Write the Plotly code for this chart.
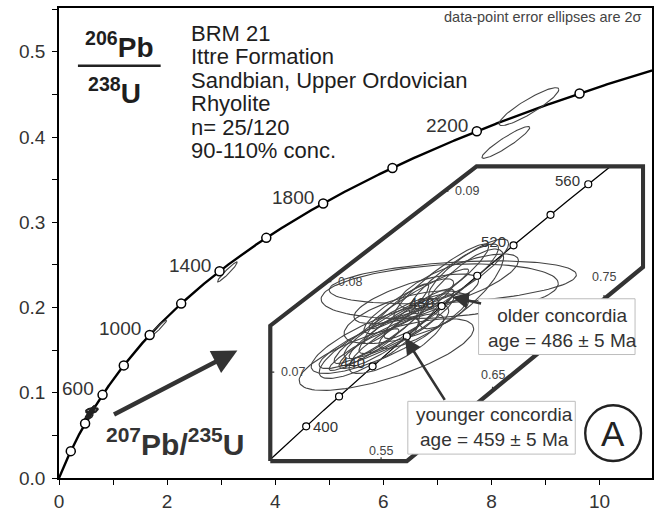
import numpy as np
import plotly.graph_objects as go

# U decay constants (1/yr)
LAMBDA_238 = 1.55125e-10
LAMBDA_235 = 9.8485e-10

# concordia age marks (Ma)
main_marks = [200, 400, 600, 800, 1000, 1200, 1400, 1600, 1800, 2000, 2200, 2400]
main_labels = [600, 1000, 1400, 1800, 2200]
inset_marks = [400, 420, 440, 460, 480, 500, 520, 540, 560]
inset_labels = [400, 440, 480, 520, 560]

# discordant / inherited analyses on the full diagram
# 207Pb/235U, 2s, 206Pb/238U, 2s, error correlation
far_x = [1.807, 3.116, 8.693, 8.266]
far_sx = [0.184, 0.184, 0.553, 0.442]
far_y = [0.1741, 0.2418, 0.4357, 0.3937]
far_sy = [0.0111, 0.0117, 0.0222, 0.0187]
far_rho = [0.97, 0.96, 0.90, 0.93]

# Ordovician cluster (shown enlarged in the inset)
clu_x = [0.5548, 0.5490, 0.5481, 0.5503, 0.5660, 0.5526, 0.5660, 0.5637, 0.5839,
         0.6040, 0.6152, 0.6219, 0.6143, 0.6026, 0.5816, 0.5883, 0.5481, 0.5637,
         0.5347, 0.5839, 0.6286, 0.6196, 0.5727, 0.5749, 0.5391]
clu_sx = [0.0783, 0.0617, 0.0537, 0.0425, 0.0492, 0.0313, 0.0358, 0.0291, 0.0447,
          0.0425, 0.0402, 0.0380, 0.1109, 0.1064, 0.0559, 0.0402, 0.0358, 0.0425,
          0.0313, 0.0313, 0.0358, 0.0537, 0.0559, 0.0402, 0.0447]
clu_y = [0.07194, 0.07370, 0.07370, 0.07453, 0.07508, 0.07425, 0.07508, 0.07645, 0.07810,
         0.08003, 0.08030, 0.07920, 0.07992, 0.07893, 0.07810, 0.07563, 0.07315, 0.07315,
         0.07249, 0.07645, 0.08140, 0.08003, 0.07607, 0.07728, 0.07271]
clu_sy = [0.00396, 0.00385, 0.00330, 0.00358, 0.00358, 0.00275, 0.00303, 0.00330, 0.00330,
          0.00413, 0.00385, 0.00440, 0.00237, 0.00303, 0.00275, 0.00303, 0.00275, 0.00330,
          0.00231, 0.00275, 0.00330, 0.00303, 0.00292, 0.00303, 0.00341]
clu_rho = [0.72, 0.80, 0.88, 0.92, 0.88, 0.92, 0.88, 0.92, 0.95,
           0.92, 0.88, 0.80, 0.35, 0.28, 0.72, 0.85, 0.88, 0.80,
           0.92, 0.88, 0.85, 0.75, 0.62, 0.85, 0.80]

# concordia ages (Ma)
older_age, older_err = 486, 5
younger_age, younger_err = 459, 5

# inset frame: axis limits and the two clipped corners
inset_xlim = (0.4506, 0.7851)
inset_ylim = (0.06017, 0.09274)
cut_top_x, cut_left_y = 0.6357, 0.07513      # upper-left corner cut
cut_bottom_x, cut_right_y = 0.5731, 0.08162  # lower-right corner cut
inset_yticks = [0.07, 0.08, 0.09]
inset_xticks = [0.55, 0.65, 0.75]

info_lines = ["BRM 21", "Ittre Formation", "Sandbian, Upper Ordovician",
              "Rhyolite", "n= 25/120", "90-110% conc."]

FONT = "Liberation Sans, Arial, sans-serif"
DARK = "#2b2b2b"


def concordia(t_ma):
    t = np.asarray(t_ma, dtype=float) * 1e6
    return np.expm1(LAMBDA_235 * t), np.expm1(LAMBDA_238 * t)


def ellipses(xs, sxs, ys, sys, rhos, n=120):
    """2-sigma error ellipses joined into one path (None-separated)."""
    t = np.linspace(0, 2 * np.pi, n)
    px, py = [], []
    for cx, sx, cy, sy, r in zip(xs, sxs, ys, sys, rhos):
        ex = cx + sx * np.cos(t)
        ey = cy + sy * (r * np.cos(t) + np.sqrt(1 - r * r) * np.sin(t))
        px += list(ex) + [None]
        py += list(ey) + [None]
    return px, py


# plot-area pixel box, used for paper-referenced decorations
PL, PR, PT, PB = 59, 654, 8, 480


def paper(xp, yp):
    return (xp - PL) / (PR - PL), (PB - yp) / (PB - PT)


fig = go.Figure()

# ---------------- main diagram ----------------
cx_line, cy_line = concordia(np.linspace(0, 2600, 800))
fig.add_trace(go.Scatter(x=cx_line, y=cy_line, mode="lines",
                         line=dict(color="black", width=2.4), hoverinfo="skip"))

ex, ey = ellipses(far_x, far_sx, far_y, far_sy, far_rho)
fig.add_trace(go.Scatter(x=ex, y=ey, mode="lines",
                         line=dict(color="#444", width=1.1), hoverinfo="skip"))
ex, ey = ellipses(clu_x, clu_sx, clu_y, clu_sy, clu_rho)
fig.add_trace(go.Scatter(x=ex, y=ey, mode="lines",
                         line=dict(color="#222", width=1.6), hoverinfo="skip"))

mx, my = concordia(main_marks)
fig.add_trace(go.Scatter(x=mx, y=my, mode="markers",
                         marker=dict(size=9, color="white",
                                     line=dict(color="black", width=1.5)),
                         hoverinfo="skip"))

annotations = []
lx, ly = concordia(main_labels)
for age, x, y in zip(main_labels, lx, ly):
    annotations.append(dict(x=x, y=y, xref="x", yref="y", text=str(age),
                            showarrow=False, xanchor="right", yanchor="middle",
                            xshift=-7, yshift=6,
                            font=dict(size=19, color="#333", family=FONT)))

# ---------------- inset (enlarged cluster) ----------------
x0, x1 = inset_xlim
y0, y1 = inset_ylim
frame_x = [x0, x0, cut_top_x, x1, x1, cut_bottom_x, x0]
frame_y = [y0, cut_left_y, y1, y1, cut_right_y, y0, y0]

t_lo = np.log1p(x0) / LAMBDA_235 / 1e6
t_hi = np.log1p(y1) / LAMBDA_238 / 1e6
ix, iy = concordia(np.linspace(t_lo, t_hi, 300))
fig.add_trace(go.Scatter(x=ix, y=iy, mode="lines", xaxis="x2", yaxis="y2",
                         line=dict(color="black", width=1.3), hoverinfo="skip"))

ex, ey = ellipses(clu_x, clu_sx, clu_y, clu_sy, clu_rho)
fig.add_trace(go.Scatter(x=ex, y=ey, mode="lines", xaxis="x2", yaxis="y2",
                         line=dict(color="#444", width=1.1), hoverinfo="skip"))

imx, imy = concordia(inset_marks)
fig.add_trace(go.Scatter(x=imx, y=imy, mode="markers", xaxis="x2", yaxis="y2",
                         marker=dict(size=7, color="white",
                                     line=dict(color="black", width=1.2)),
                         hoverinfo="skip"))

fig.add_trace(go.Scatter(x=frame_x, y=frame_y, mode="lines", xaxis="x2", yaxis="y2",
                         line=dict(color="#333", width=4.2), hoverinfo="skip"))


def frame_left_x(y):
    if y <= cut_left_y:
        return x0
    return x0 + (y - cut_left_y) * (cut_top_x - x0) / (y1 - cut_left_y)


def frame_bottom_y(x):
    if x <= cut_bottom_x:
        return y0
    return y0 + (x - cut_bottom_x) * (cut_right_y - y0) / (x1 - cut_bottom_x)


PX_X = (PR - PL) * 0.6372 / (0.787 - 0.448)   # inset pixels per 207/235 unit
PX_Y = (PB - PT) * 0.6394 / (0.0930 - 0.0598)  # inset pixels per 206/238 unit

tick_x, tick_y = [], []
for yv in inset_yticks:
    xe = frame_left_x(yv)
    tick_x += [xe, xe + 4 / PX_X, None]
    tick_y += [yv, yv, None]
    annotations.append(dict(x=xe, y=yv, xref="x2", yref="y2", text=f"{yv:.2f}",
                            showarrow=False, xanchor="left", yanchor="middle",
                            xshift=9, font=dict(size=12.5, color="#444", family=FONT)))
for xv, dy in zip(inset_xticks, [10, 16, 22]):
    ye = frame_bottom_y(xv)
    tick_x += [xv, xv, None]
    tick_y += [ye, ye + 4 / PX_Y, None]
    annotations.append(dict(x=xv, y=ye, xref="x2", yref="y2", text=f"{xv:.2f}",
                            showarrow=False, xanchor="center", yanchor="middle",
                            yshift=dy, font=dict(size=12.5, color="#444", family=FONT)))
fig.add_trace(go.Scatter(x=tick_x, y=tick_y, mode="lines", xaxis="x2", yaxis="y2",
                         line=dict(color="#333", width=1.2), hoverinfo="skip"))

ilx, ily = concordia(inset_labels)
for age, x, y in zip(inset_labels, ilx, ily):
    right = age == inset_labels[0]
    annotations.append(dict(x=x, y=y, xref="x2", yref="y2", text=str(age),
                            showarrow=False,
                            xanchor="left" if right else "right", yanchor="middle",
                            xshift=5 if right else -6, yshift=0 if right else 4,
                            font=dict(size=15, color="#333", family=FONT)))

# arrows to the two concordia ages
(ox,), (oy,) = concordia([older_age])
(yx,), (yy,) = concordia([younger_age])
for tip_x, tip_y, tail in [(ox, oy, (484, 305)), (yx, yy, (447, 403))]:
    tx = 0.4828 + (tail[0] - 307) / PX_X
    ty = 0.06402 + (428 - tail[1]) / PX_Y
    annotations.append(dict(x=tip_x, y=tip_y, xref="x2", yref="y2",
                            ax=tx, ay=ty, axref="x2", ayref="y2", text="",
                            showarrow=True, arrowhead=2, arrowsize=1.25,
                            arrowwidth=2.6, arrowcolor="#333"))

# ---------------- boxes, circle and text ----------------
shapes = []
for (bx0, by0, bx1, by1) in [(480, 300, 637, 356), (409, 403, 577, 456)]:
    a0, b0 = paper(bx0, by1)
    a1, b1 = paper(bx1, by0)
    shapes.append(dict(type="rect", xref="paper", yref="paper", x0=a0, y0=b0,
                       x1=a1, y1=b1, fillcolor="white",
                       line=dict(color="#bdbdbd", width=1), layer="above"))

a0, b0 = paper(587, 463)
a1, b1 = paper(643, 407)
shapes.append(dict(type="circle", xref="paper", yref="paper", x0=a0, y0=b0,
                   x1=a1, y1=b1, line=dict(color="#222", width=2.4), layer="above"))

a0, b0 = paper(78, 66)
a1, _ = paper(161, 66)
shapes.append(dict(type="line", xref="paper", yref="paper", x0=a0, y0=b0,
                   x1=a1, y1=b0, line=dict(color="#222", width=2.6)))


def text_at(xp, yp, text, size, color=DARK, anchor="left"):
    a, b = paper(xp, yp)
    annotations.append(dict(x=a, y=b, xref="paper", yref="paper", text=text,
                            showarrow=False, xanchor=anchor, yanchor="middle",
                            font=dict(size=size, color=color, family=FONT)))


text_at(487, 329.5, f"older concordia<br>age = {older_age} ± {older_err} Ma", 19, "#333")
text_at(415, 428.5, f"younger concordia<br>age = {younger_age} ± {younger_err} Ma", 19, "#333")
text_at(615, 435, "A", 35, "#222", "center")

for i, line in enumerate(info_lines):
    text_at(189, 33.5 + 23.6 * i, line, 22, "#1e1e1e")

text_at(646, 17, "data-point error ellipses are 2σ", 14.5, "#444", "right")
text_at(119, 45, "<b><sup>206</sup>Pb</b>", 28, "#1e1e1e", "center")
text_at(115, 91, "<b><sup>238</sup>U</b>", 28, "#1e1e1e", "center")
text_at(175, 444, "<b><sup>207</sup>Pb/<sup>235</sup>U</b>", 30, "#333", "center")

# big pointer from the cluster to the enlargement
annotations.append(dict(x=3.30, y=0.1495, xref="x", yref="y", ax=0.99, ay=0.0736,
                        axref="x", ayref="y", text="", showarrow=True, arrowhead=2,
                        arrowsize=1.1, arrowwidth=4.5, arrowcolor="#333"))

tick_font = dict(size=19, color="#333", family=FONT)
fig.update_layout(
    width=655, height=513,
    margin=dict(l=PL, r=655 - PR, t=PT, b=513 - PB),
    paper_bgcolor="white", plot_bgcolor="rgba(0,0,0,0)",
    showlegend=False,
    xaxis=dict(range=[0, 10.97], domain=[0, 1], anchor="y", tick0=0, dtick=2,
               ticks="outside", ticklen=5, tickwidth=1.2, tickcolor="black",
               showline=True, linecolor="black", linewidth=1.5, mirror=True,
               showgrid=False, zeroline=False, tickfont=tick_font,
               minor=dict(dtick=1, ticks="outside", ticklen=5, tickwidth=1.2,
                          tickcolor="black", showgrid=False)),
    yaxis=dict(range=[0, 0.5514], domain=[0, 1], anchor="x", tick0=0, dtick=0.1,
               tickformat=".1f", ticks="outside", ticklen=5, tickwidth=1.2,
               tickcolor="black", showline=True, linecolor="black", linewidth=1.5,
               mirror=True, showgrid=False, zeroline=False, tickfont=tick_font,
               ticklabelstandoff=3,
               minor=dict(dtick=0.05, ticks="outside", ticklen=5, tickwidth=1.2,
                          tickcolor="black", showgrid=False)),
    xaxis2=dict(range=[0.448, 0.787], domain=[0.3514, 0.9886], anchor="y2",
                visible=False),
    yaxis2=dict(range=[0.0598, 0.0930], domain=[0.0288, 0.6682], anchor="x2",
                visible=False),
    annotations=annotations,
    shapes=shapes,
)

fig.write_html("out.html")
